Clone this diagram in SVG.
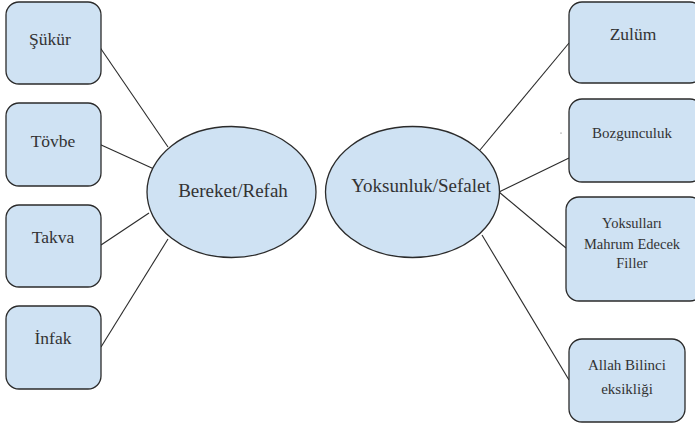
<svg xmlns="http://www.w3.org/2000/svg" width="695" height="425" viewBox="0 0 695 425">
<style>
.box{fill:#cfe2f3;stroke:#2b2b2b;stroke-width:1.3}
.el{fill:#cfe2f3;stroke:#2b2b2b;stroke-width:1.3}
.ln{stroke:#2b2b2b;stroke-width:1.1;fill:none}
text{font-family:"Liberation Serif","DejaVu Serif",serif;fill:#333333;text-anchor:middle}
.t17{font-size:17.5px}
.t19{font-size:19px}
.t15{font-size:15px}
.t14{font-size:14.5px}
</style>
<rect width="695" height="425" fill="#ffffff"/>
<g id="connectors">
<line class="ln" x1="97" y1="43" x2="168" y2="147"/>
<line class="ln" x1="99" y1="144" x2="154" y2="169"/>
<line class="ln" x1="101" y1="245" x2="149" y2="213"/>
<line class="ln" x1="101" y1="347" x2="168" y2="239"/>
<line class="ln" x1="480" y1="150" x2="569" y2="43"/>
<line class="ln" x1="499" y1="192" x2="569" y2="158"/>
<line class="ln" x1="499" y1="192" x2="566" y2="248"/>
<line class="ln" x1="482" y1="235" x2="569" y2="380"/>
</g>
<g id="sukur"><rect class="box" x="6" y="2" width="95" height="82" rx="13"/><text class="t17" x="50" y="45">Şükür</text></g>
<g id="tovbe"><rect class="box" x="6" y="103" width="95" height="83" rx="13"/><text class="t17" x="53" y="147">Tövbe</text></g>
<g id="takva"><rect class="box" x="6" y="205" width="95" height="82" rx="13"/><text class="t17" x="53" y="243">Takva</text></g>
<g id="infak"><rect class="box" x="6" y="306" width="95" height="83" rx="13"/><text class="t17" x="53" y="344">İnfak</text></g>
<g id="bereket"><ellipse class="el" cx="231.5" cy="192" rx="84.5" ry="65.5"/><text class="t19" x="233" y="197">Bereket/Refah</text></g>
<g id="yoksunluk"><ellipse class="el" cx="412.5" cy="192" rx="87" ry="65.5"/><text class="t19" x="421" y="192">Yoksunluk/Sefalet</text></g>
<g id="zulum"><rect class="box" x="569" y="2" width="134" height="81" rx="13"/><text class="t17" x="633" y="40">Zulüm</text></g>
<g id="bozgunculuk"><rect class="box" x="569" y="99" width="134" height="83" rx="13"/><text class="t15" x="632" y="138">Bozgunculuk</text></g>
<g id="yoksullari"><rect class="box" x="566" y="197" width="137" height="104" rx="13"/><text class="t14" x="632" y="228">Yoksulları</text><text class="t14" x="632" y="249">Mahrum Edecek</text><text class="t14" x="632" y="268">Filler</text></g>
<g id="allah"><rect class="box" x="569" y="339" width="116" height="83" rx="13"/><text class="t15" x="627" y="370">Allah Bilinci</text><text class="t15" x="627" y="394">eksikliği</text></g>
<circle cx="561" cy="133" r="0.6" fill="#555"/>
</svg>
